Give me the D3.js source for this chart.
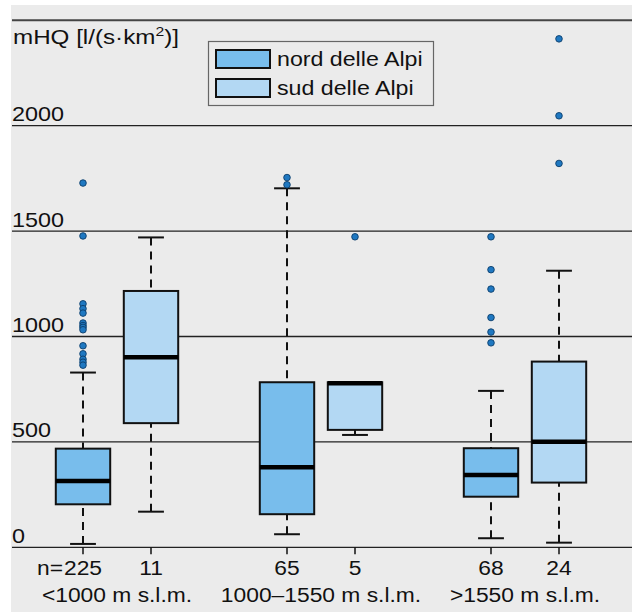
<!DOCTYPE html>
<html>
<head>
<meta charset="utf-8">
<script src="https://cdn.jsdelivr.net/npm/d3@7"></script>
<style>
  html, body { margin: 0; padding: 0; background: #fff; }
  svg { display: block; font-family: "Liberation Sans", Arial, sans-serif; }
</style>
</head>
<body>
<svg width="632" height="612"></svg>
<script>
// box positions (R-style "at" values) and which series they belong to
const positions = [1, 2, 4, 5, 7, 8];
const seriesOf = [0, 1, 0, 1, 0, 1];
const counts = ["225", "11", "65", "5", "68", "24"];
const countPrefix = "n=";
const groupLabels = ["<1000 m s.l.m.", "1000\u20131550 m s.l.m.", ">1550 m s.l.m."];
const groupPositions = [[1, 2], [4, 5], [7, 8]];
const seriesNames = ["nord delle Alpi", "sud delle Alpi"];
const seriesColors = ["#78bdec", "#b3d8f3"];
const yTicks = [0, 500, 1000, 1500, 2000, 2500];

// box statistics, mHQ in l/(s*km2)
const lower  = [16, 169, 62, 533, 43, 22];
const q1     = [204, 589, 157, 557, 240, 307];
const median = [315, 902, 380, 778, 343, 501];
const q3     = [468, 1216, 783, 783, 470, 881];
const upper  = [829, 1470, 1703, 783, 742, 1312];
const outliers = [
  [1728, 1477, 1155, 1132, 1111, 1064, 1052, 1043, 1032, 956, 918, 892, 878, 864],
  [],
  [1754, 1720],
  [1473],
  [1473, 1317, 1225, 1090, 1021, 970],
  [2412, 2047, 1821]
];

const svg = d3.select("svg");
const yScale = d3.scaleLinear().domain([0, 2500]).range([547.3, 20.3]);
const xScale = d3.scaleLinear().domain([1, 8]).range([83, 559]);
const boxW = xScale(1.8) - xScale(1);
const capW = xScale(1.38) - xScale(1);
const left = 12, right = 632;

// stretched text helper (the reference glyphs are wider than Arial)
function addText(parent, x, y, str, size, sx, anchor) {
  return parent.append("text")
    .attr("transform", `translate(${x},${y}) scale(${sx},1)`)
    .attr("text-anchor", anchor || "start")
    .style("font-size", size + "px")
    .attr("fill", "#111")
    .text(str);
}

svg.append("rect")
  .attr("x", 11).attr("y", 5)
  .attr("width", 632 - 11).attr("height", 612 - 5)
  .attr("fill", "#ebebeb");

// grid lines
svg.append("g").selectAll("line")
  .data(yTicks)
  .enter().append("line")
  .attr("x1", left).attr("x2", right)
  .attr("y1", d => yScale(d)).attr("y2", d => yScale(d))
  .attr("stroke", d => d === 2500 ? "#444" : "#222")
  .attr("stroke-width", d => d === 2500 ? 2 : 1.3);

// y labels above the lines
yTicks.filter(d => d < 2500).forEach(d => {
  addText(svg, left, yScale(d) - 4.5, d, 20, 1.17);
});

// axis title
const title = svg.append("text")
  .attr("transform", "translate(13,44) scale(1.21,1)")
  .style("font-size", "20px")
  .attr("fill", "#111");
title.append("tspan").text("mHQ [l/(s\u00b7km");
title.append("tspan").attr("dy", -8).style("font-size", "13px").text("2");
title.append("tspan").attr("dy", 8).text(")]");

// x ticks and labels
const ticks = svg.append("g");
positions.forEach((p, i) => {
  ticks.append("line")
    .attr("x1", xScale(p)).attr("x2", xScale(p))
    .attr("y1", yScale(0)).attr("y2", yScale(0) + 7)
    .attr("stroke", "#111").attr("stroke-width", 1.5);
  const t = addText(ticks, xScale(p), 575, counts[i], 19.5, 1.17, "middle");
  if (i === 0) {
    const w = t.node().getComputedTextLength() * 1.17;
    addText(ticks, xScale(p) - w / 2 - 1, 575, countPrefix, 19.5, 1.17, "end");
  }
});
groupLabels.forEach((g, i) => {
  const cx = xScale(d3.mean(groupPositions[i]));
  addText(ticks, cx, 602, g, 19.5, 1.17, "middle");
});

// boxes
const boxes = svg.append("g");
positions.forEach((p, i) => {
  const cx = xScale(p);
  // whiskers
  [[upper[i], q3[i]], [lower[i], q1[i]]].forEach(([w, q]) => {
    boxes.append("line")
      .attr("x1", cx).attr("x2", cx)
      .attr("y1", yScale(w)).attr("y2", yScale(q))
      .attr("stroke", "#111").attr("stroke-width", 2)
      .attr("stroke-dasharray", "8,6");
    boxes.append("line")
      .attr("x1", cx - capW / 2).attr("x2", cx + capW / 2)
      .attr("y1", yScale(w)).attr("y2", yScale(w))
      .attr("stroke", "#111").attr("stroke-width", 2);
  });
  boxes.append("rect")
    .attr("x", cx - boxW / 2).attr("width", boxW)
    .attr("y", yScale(q3[i])).attr("height", yScale(q1[i]) - yScale(q3[i]))
    .attr("fill", seriesColors[seriesOf[i]])
    .attr("stroke", "#111").attr("stroke-width", 2);
  boxes.append("line")
    .attr("x1", cx - boxW / 2).attr("x2", cx + boxW / 2)
    .attr("y1", yScale(median[i])).attr("y2", yScale(median[i]))
    .attr("stroke", "#000").attr("stroke-width", 4.5);
  boxes.selectAll(null)
    .data(outliers[i])
    .enter().append("circle")
    .attr("cx", cx)
    .attr("cy", d => yScale(d))
    .attr("r", 3.3)
    .attr("fill", "#1f78c1")
    .attr("stroke", "#0b3d6b")
    .attr("stroke-width", 0.9);
});

// legend
const legend = svg.append("g");
legend.append("rect")
  .attr("x", 208.5).attr("y", 41.5)
  .attr("width", 225).attr("height", 64)
  .attr("fill", "#ebebeb")
  .attr("stroke", "#666").attr("stroke-width", 1.2);
seriesNames.forEach((s, i) => {
  legend.append("rect")
    .attr("x", 216).attr("y", 50 + i * 29)
    .attr("width", 54).attr("height", 18)
    .attr("fill", seriesColors[i])
    .attr("stroke", "#111").attr("stroke-width", 2);
  addText(legend, 277, 66 + i * 29, s, 20, 1.16);
});
</script>
</body>
</html>
